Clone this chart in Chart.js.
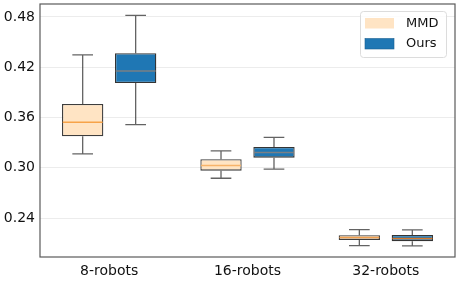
<!DOCTYPE html>
<html><head><meta charset="utf-8">
<script src="https://cdn.jsdelivr.net/npm/chart.js@4"></script>
<style>html,body{margin:0;padding:0;background:#fff}#wrap{width:458px;height:284px}</style>
</head><body><div id="wrap"><canvas id="c" width="458" height="284"></canvas></div>
<script>
const categories = ['8-robots', '16-robots', '32-robots'];
const seriesNames = ['MMD', 'Ours'];
const yTicks = [0.24, 0.30, 0.36, 0.42, 0.48];
// box statistics per series: [whiskerLow, Q1, median, Q3, whiskerHigh]
const mmdLow    = [0.3165, 0.2875, 0.2071];
const mmdQ1     = [0.3376, 0.2966, 0.2139];
const mmdMedian = [0.3543, 0.3026, 0.2167];
const mmdQ3     = [0.3762, 0.3102, 0.2195];
const mmdHigh   = [0.4347, 0.3201, 0.2262];
const oursLow    = [0.3515, 0.2983, 0.2067];
const oursQ1     = [0.4012, 0.3121, 0.2124];
const oursMedian = [0.4156, 0.3181, 0.2155];
const oursQ3     = [0.4367, 0.3249, 0.2198];
const oursHigh   = [0.4820, 0.3364, 0.2258];

const mmdStats = {low: mmdLow, median: mmdMedian, high: mmdHigh};
const oursStats = {low: oursLow, median: oursMedian, high: oursHigh};
const medianColors = [
  ['#f7a349', '#f7b36a', '#f0a050'],
  ['#7a7f85', '#7a7f85', '#d8782a']
];

const boxPlugin = {
  id: 'boxplot',
  afterDatasetsDraw(chart) {
    const ctx = chart.ctx, y = chart.scales.y;
    const stats = [mmdStats, oursStats];
    chart.data.datasets.forEach((ds, di) => {
      const meta = chart.getDatasetMeta(di);
      meta.data.forEach((bar, i) => {
        const st = stats[di];
        const x = bar.x, w = bar.width;
        const top = Math.min(bar.y, bar.base), bot = Math.max(bar.y, bar.base);
        const yl = y.getPixelForValue(st.low[i]);
        const yh = y.getPixelForValue(st.high[i]);
        const ym = y.getPixelForValue(st.median[i]);
        ctx.save();
        ctx.strokeStyle = 'rgba(60,60,60,0.8)';
        ctx.lineWidth = 1.3;
        ctx.beginPath();
        ctx.moveTo(x, top); ctx.lineTo(x, yh);
        ctx.moveTo(x, bot); ctx.lineTo(x, yl);
        ctx.moveTo(x - w / 4, yh); ctx.lineTo(x + w / 4, yh);
        ctx.moveTo(x - w / 4, yl); ctx.lineTo(x + w / 4, yl);
        ctx.stroke();
        ctx.strokeStyle = medianColors[di][i];
        ctx.lineWidth = 1.5;
        ctx.beginPath();
        ctx.moveTo(x - w / 2 + 0.7, ym); ctx.lineTo(x + w / 2 - 0.7, ym);
        ctx.stroke();
        ctx.restore();
      });
    });
    // frame
    const a = chart.chartArea;
    ctx.save();
    ctx.strokeStyle = '#5a5a5a';
    ctx.lineWidth = 1.2;
    ctx.strokeRect(a.left, a.top, a.right - a.left, a.bottom - a.top);
    // legend
    const lx = 360.5, ly = 11.5, lw = 86, lh = 46;
    ctx.fillStyle = 'rgba(255,255,255,0.85)';
    ctx.strokeStyle = '#dcdcdc';
    ctx.lineWidth = 1;
    ctx.beginPath();
    if (ctx.roundRect) ctx.roundRect(lx, ly, lw, lh, 3); else ctx.rect(lx, ly, lw, lh);
    ctx.fill(); ctx.stroke();
    ctx.font = '13px "DejaVu Sans"';
    ctx.textBaseline = 'middle';
    chart.data.datasets.forEach((ds, di) => {
      const py = 18 + di * 20.5;
      ctx.fillStyle = ds.backgroundColor;
      ctx.fillRect(365, py, 29, 10.5);
      if (di === 1) { ctx.strokeStyle = '#1a5f91'; ctx.lineWidth = 0.6; ctx.strokeRect(365, py, 29, 10.5); }
      ctx.fillStyle = '#111';
      ctx.fillText(ds.label, 406, py + 5.5);
    });
    ctx.restore();
  }
};

new Chart(document.getElementById('c'), {
  type: 'bar',
  data: {
    labels: categories,
    datasets: [
      {label: seriesNames[0], data: mmdQ1.map((v, i) => [v, mmdQ3[i]]),
       backgroundColor: '#ffe4c4', borderColor: 'rgba(40,40,40,0.9)', borderWidth: 1.3, borderSkipped: false},
      {label: seriesNames[1], data: oursQ1.map((v, i) => [v, oursQ3[i]]),
       backgroundColor: '#1f77b4', borderColor: 'rgba(30,30,30,0.9)', borderWidth: 1.3, borderSkipped: false}
    ]
  },
  options: {
    responsive: false,
    animation: false,
    devicePixelRatio: 1,
    layout: {padding: {left: 0, right: 3, top: 4, bottom: 0}},
    categoryPercentage: 0.766,
    barPercentage: 0.78,
    plugins: {legend: {display: false}, tooltip: {enabled: false}},
    scales: {
      x: {
        grid: {display: false, drawTicks: false},
        border: {display: false},
        ticks: {color: '#111', font: {family: 'DejaVu Sans', size: 14}, padding: 6},
        afterFit(s) { s.height = 27; s.paddingLeft = 0; s.paddingRight = 0; }
      },
      y: {
        min: 0.1935, max: 0.4955,
        afterBuildTicks(s) { s.ticks = yTicks.map(v => ({value: v})); },
        grid: {color: '#ececec', lineWidth: 1, drawTicks: false},
        border: {display: false},
        ticks: {color: '#111', font: {family: 'DejaVu Sans', size: 14}, padding: 5,
                callback: v => Number(v).toFixed(2)},
        afterFit(s) { s.width = 40; s.paddingTop = 0; s.paddingBottom = 0; }
      }
    }
  },
  plugins: [boxPlugin]
});
</script></body></html>
